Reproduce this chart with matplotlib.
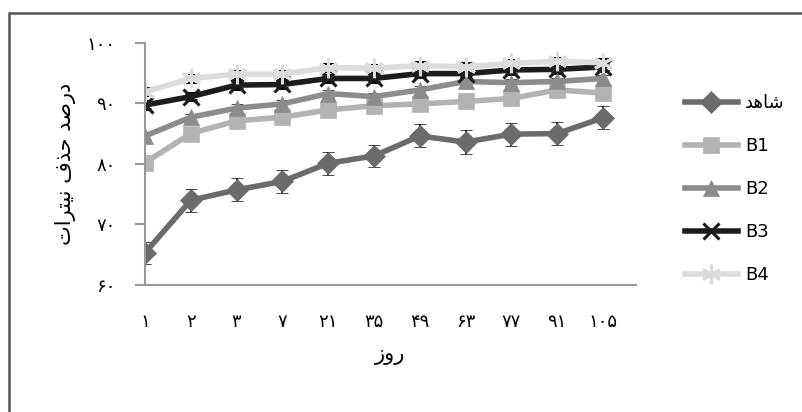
import matplotlib
matplotlib.use("Agg")
import matplotlib.pyplot as plt
from matplotlib.patches import Rectangle
from matplotlib.lines import Line2D

plt.rcParams['font.family'] = ['DejaVu Sans', 'Noto Sans']

# days, Persian digits
days = ["۱", "۲", "۳", "۷", "۲۱", "۳۵", "۴۹", "۶۳", "۷۷", "۹۱", "۱۰۵"]

control = [65.3, 74.0, 75.7, 77.1, 80.1, 81.3, 84.6, 83.6, 84.9, 85.0, 87.6]
control_err = [1.8, 1.9, 1.9, 1.9, 1.9, 1.8, 1.9, 2.0, 1.9, 1.9, 1.9]
b1 = [80.2, 85.0, 87.1, 87.7, 88.9, 89.6, 89.9, 90.3, 90.8, 92.2, 91.7]
b2 = [84.6, 87.7, 89.2, 89.9, 91.6, 91.1, 92.2, 93.6, 93.4, 93.6, 94.1]
b3 = [89.7, 91.1, 93.0, 93.1, 94.1, 94.1, 94.9, 94.9, 95.5, 95.6, 96.0]
b4 = [91.9, 94.1, 94.8, 94.8, 95.9, 95.8, 96.2, 96.0, 96.6, 96.9, 96.7]
small_err = [0.6] * 11

# pre-shaped Arabic text in visual order (matplotlib has no RTL shaping)
def rtl(s):
    return s[::-1]

label_control = rtl("\uFEB7\uFE8E\uFEEB\uFEAA")  # شاهد
ylabel = rtl("\uFEA9\uFEAD\uFEBB\uFEAA \uFEA3\uFEAC\uFED1 \uFEE7\uFEF4\uFE98\uFEAE\uFE8D\uFE95")  # درصد حذف نیترات
xlabel = rtl("\uFEAD\uFEED\uFEAF")  # روز

fig = plt.figure(figsize=(8.03, 4.12), dpi=100)
ax = fig.add_axes([145 / 803, 1 - 285 / 412, (636 - 145) / 803, (285 - 42.7) / 412])

x = list(range(len(days)))
series = [
    (control, control_err, label_control, "#6b6b6b", "D", 11),
    (b1, small_err, "B1", "#b3b3b3", "s", 12),
    (b2, small_err, "B2", "#8c8c8c", "^", 12),
    (b3, small_err, "B3", "#1c1c1c", "x", 12),
    (b4, small_err, "B4", "#dcdcdc", (6, 2, 0), 14),
]
handles = []
for vals, err, lab, col, mk, ms in series:
    mew = 2.2 if mk in ("x", (6, 2, 0)) else 0.5
    ax.errorbar(x, vals, yerr=err, color=col, marker=mk, markersize=ms,
                linewidth=4, markeredgewidth=mew, markeredgecolor=col,
                ecolor="black", elinewidth=1.2, capsize=4, capthick=2)
    handles.append(Line2D([], [], color=col, marker=mk, markersize=ms,
                          linewidth=4, markeredgewidth=mew, markeredgecolor=col))

ax.set_xlim(0, (636 - 145) / 45.8)
ax.set_ylim(60, 100)
ax.set_xticks(x)
ax.set_xticklabels(days, fontsize=13)
ax.set_yticks([60, 70, 80, 90, 100])
ax.set_yticklabels(["۶۰", "۷۰", "۸۰", "۹۰", "۱۰۰"], fontsize=13)
ax.tick_params(axis="x", length=0, pad=20)
ax.tick_params(axis="y", length=7, color="#999999", width=1.5, pad=14)
for s in ["top", "right"]:
    ax.spines[s].set_visible(False)
for s in ["left", "bottom"]:
    ax.spines[s].set_color("#999999")
    ax.spines[s].set_linewidth(1.5)

ax.set_ylabel(ylabel, fontsize=15, labelpad=8)
ax.set_xlabel(xlabel, fontsize=15, labelpad=10)

ax.legend(handles, [s[2] for s in series], loc="upper left",
          bbox_to_anchor=(669 / 803, 1 - 78 / 412),
          bbox_transform=fig.transFigure, frameon=False, fontsize=13,
          labelspacing=1.38, handlelength=2.9, handletextpad=0.4)

fig.patches.append(Rectangle((9 / 803, -0.1), 1.0, 1 - 13 / 412 + 0.1,
                             transform=fig.transFigure, fill=False,
                             edgecolor="#555555", linewidth=1.8))

fig.savefig("out.png", dpi=100)
